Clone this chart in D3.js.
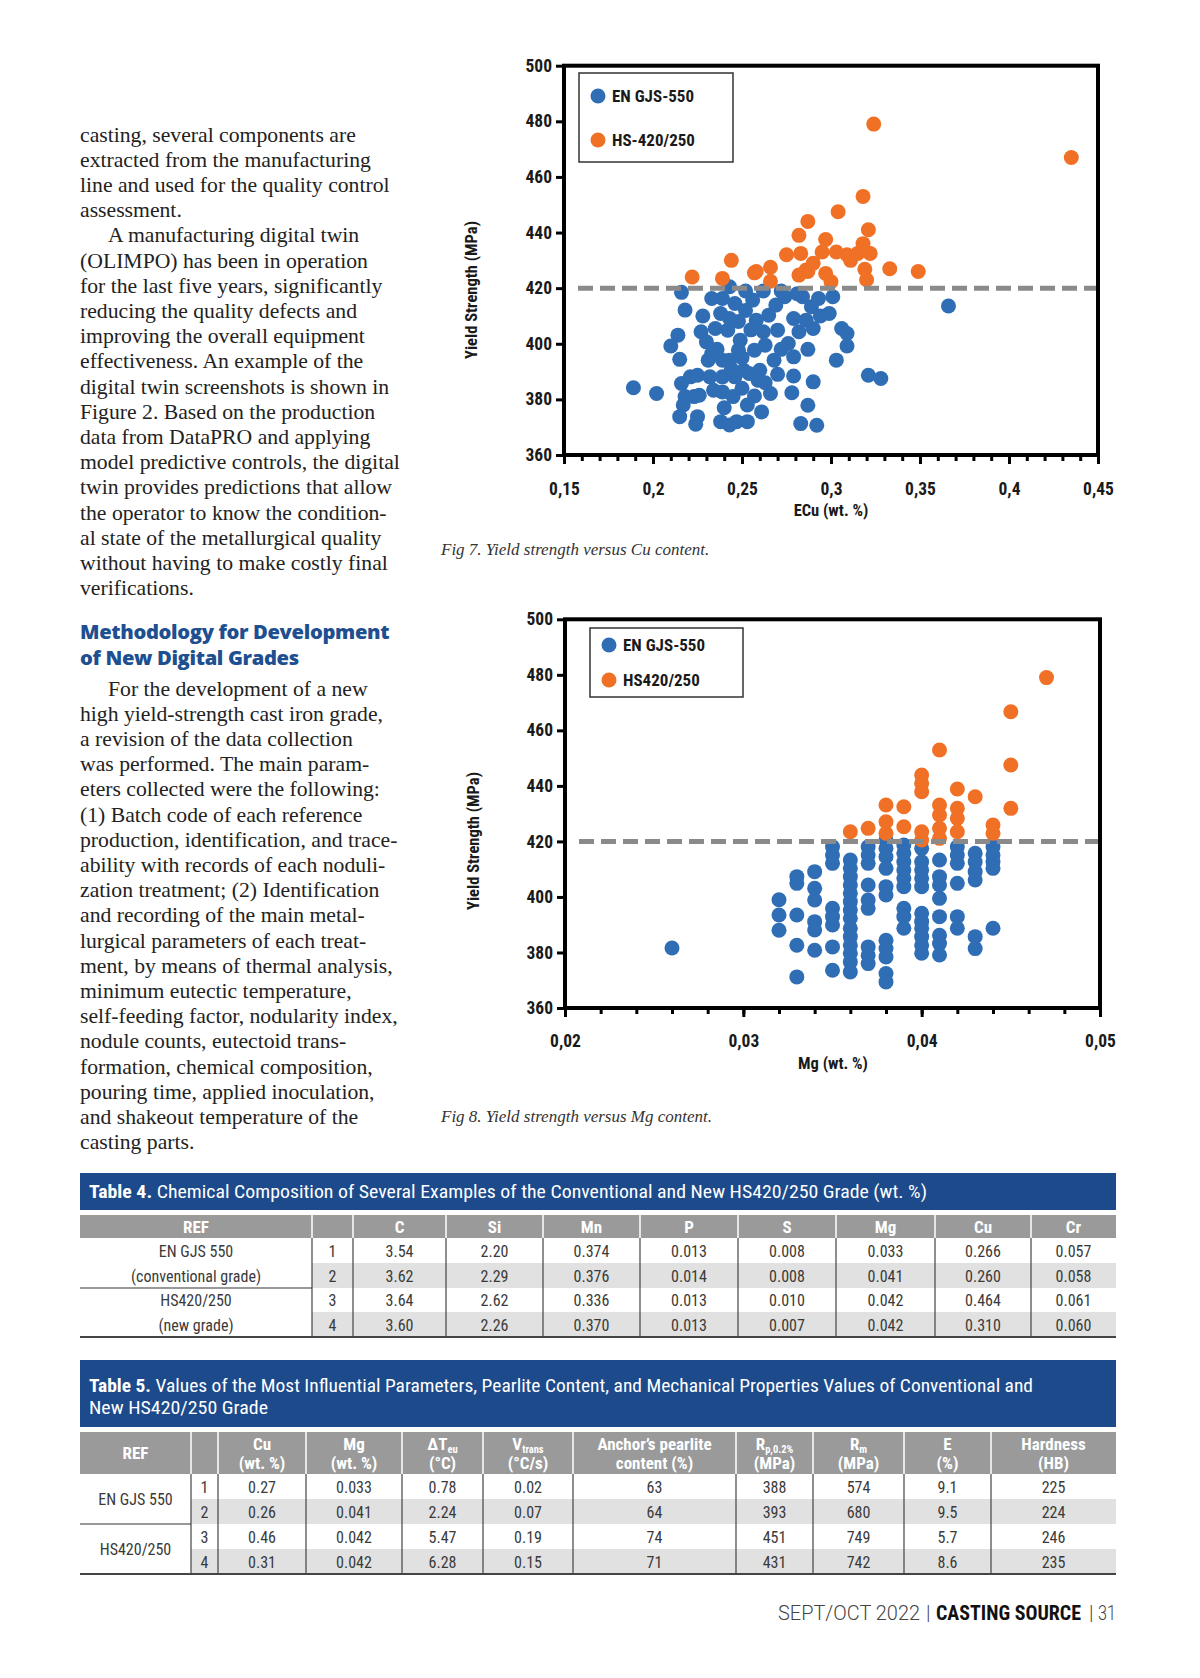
<!DOCTYPE html>
<html>
<head>
<meta charset="utf-8">
<script src="https://cdn.jsdelivr.net/npm/d3@7"></script>
<style>
  body { margin: 0; background: #fff; }
</style>
</head>
<body>
<svg id="page"></svg>
<script>
// ---------- data: Fig 7 (ECu vs yield strength) ----------
const cuBlue = [
  [0.189,384.2],[0.202,382.1],[0.216,418.5],[0.218,412.1],[0.214,403.1],[0.210,399.2],[0.215,394.4],
  [0.216,385.7],[0.221,388.1],[0.225,388.7],[0.218,381],[0.223,381],[0.226,381.5],[0.217,378],
  [0.215,373.8],[0.225,373.8],[0.224,371.1],[0.227,404.3],[0.230,400.7],[0.233,416.3],[0.239,416.3],
  [0.238,410.9],[0.235,405.5],[0.242,404.9],[0.231,394.1],[0.233,396.5],[0.239,394.1],[0.243,394.1],
  [0.232,388.1],[0.239,388.1],[0.246,388.1],[0.234,383.3],[0.239,382.7],[0.245,381],[0.238,372],
  [0.243,370.8],[0.247,372],[0.243,420.5],[0.246,414.5],[0.243,409.1],[0.249,401.3],[0.248,397.7],
  [0.250,384],[0.251,390.5],[0.366,413.6],[0.301,416.9],[0.299,410.9],[0.306,405.5],[0.309,403.7],
  [0.309,399.2],[0.303,394.1],[0.321,388.7],[0.328,387.5],[0.290,386.3],[0.279,388.4],[0.278,382.4],
  [0.287,377.9],[0.283,371.3],[0.292,370.7],[0.266,382.1],[0.261,375.5],[0.257,381.2],[0.279,395.3],
  [0.276,400.1],[0.282,404.3],[0.290,405.5],[0.286,408.5],[0.279,409.1],[0.289,413.3],[0.284,416.9],
  [0.293,416.3],[0.274,416.9],[0.269,413.9],[0.265,410.3],[0.270,404.9],[0.263,399.5],[0.268,394.1],
  [0.260,390.5],[0.257,397.7],[0.258,408.5],[0.256,415.7],[0.262,404.3],[0.259,386.9],[0.254,389.3],
  [0.252,412],[0.255,405],[0.250,395],[0.253,378],[0.240,377],[0.228,410],[0.236,398],[0.244,391],
  [0.270,389],[0.272,398],[0.287,398],[0.294,410],[0.262,419],[0.272,419],[0.281,418],[0.253,372],
  [0.263,386],[0.248,408],[0.252,419]
];
const cuOrange = [
  [0.222,424],[0.239,423.5],[0.244,430],[0.257,425.5],[0.258,426],[0.266,427.5],[0.266,422.5],
  [0.275,432],[0.282,424.7],[0.283,432.5],[0.282,439],[0.287,444],[0.287,426],[0.286,426.5],
  [0.295,433],[0.297,437.5],[0.297,425.3],[0.300,422.3],[0.303,433],[0.304,447.5],[0.309,432],
  [0.315,432.5],[0.318,436],[0.318,453],[0.319,426.8],[0.320,423],[0.321,441],[0.322,432.5],
  [0.324,479],[0.333,427],[0.349,426],[0.435,467],[0.290,429],[0.311,430]
];

// ---------- data: Fig 8 (Mg vs yield strength) ----------
const mgBlue = [
  [0.026,381.6],
  [0.032,399],[0.032,393.5],[0.032,388],
  [0.033,407.3],[0.033,404.9],[0.033,393.5],[0.033,382.6],[0.033,371.2],
  [0.034,409.1],[0.034,403.1],[0.034,398.9],[0.034,391.1],[0.034,388.1],[0.034,380.8],
  [0.035,418.1],[0.035,415.1],[0.035,412.1],[0.035,395.9],[0.035,392.9],[0.035,389.9],[0.035,382],[0.035,373.6],
  [0.036,413.3],[0.036,410.3],[0.036,407.3],[0.036,404.3],[0.036,401.3],[0.036,398.3],[0.036,395.3],
  [0.036,392.3],[0.036,388.7],[0.036,385.7],[0.036,382.6],[0.036,379.7],[0.036,376.6],[0.036,373.0],
  [0.037,418.1],[0.037,415.1],[0.037,412.1],[0.037,404.3],[0.037,398.9],[0.037,395.9],[0.037,382],[0.037,379],[0.037,376],
  [0.038,420.5],[0.038,417.5],[0.038,414.5],[0.038,410.3],[0.038,403.7],[0.038,400.7],[0.038,384.4],
  [0.038,381.4],[0.038,378.4],[0.038,372.4],[0.038,369.4],
  [0.039,418.7],[0.039,415.7],[0.039,412.7],[0.039,409.7],[0.039,406.7],[0.039,403.7],[0.039,395.9],[0.039,392.9],[0.039,388.7],
  [0.040,417.5],[0.040,412.7],[0.040,409.7],[0.040,406.7],[0.040,403.7],[0.040,394.1],[0.040,391.1],
  [0.040,388.7],[0.040,385.7],[0.040,382.6],[0.040,379.7],
  [0.041,413.3],[0.041,407.3],[0.041,404.3],[0.041,399.5],[0.041,392.9],[0.041,386.2],[0.041,383.2],[0.041,379.1],
  [0.042,418.1],[0.042,415.1],[0.042,412.1],[0.042,404.9],[0.042,392.9],[0.042,388.7],
  [0.043,415.7],[0.043,412.7],[0.043,409.1],[0.043,406.1],[0.043,385.7],[0.043,381.4],
  [0.044,418.1],[0.044,415.1],[0.044,412.7],[0.044,410.3],[0.044,388.7]
];
const mgOrange = [
  [0.047,479],[0.045,466.7],[0.045,447.5],[0.045,431.9],[0.041,452.9],[0.040,443.9],[0.040,440.9],
  [0.040,437.9],[0.042,438.9],[0.043,436.1],[0.038,433.1],[0.039,432.5],[0.041,433.1],[0.041,429.5],
  [0.041,424.7],[0.041,421.1],[0.042,431.9],[0.042,428.3],[0.042,423.5],[0.044,425.9],[0.044,422.9],
  [0.036,423.5],[0.037,424.7],[0.038,427.1],[0.038,422.9],[0.039,425.3],[0.040,423.5],[0.040,420.5]
];

const threshold = 420;
const yTicks = [360, 380, 400, 420, 440, 460, 480, 500];
const cuTicks = [0.15, 0.2, 0.25, 0.3, 0.35, 0.4, 0.45];
const cuTickLabels = ["0,15", "0,2", "0,25", "0,3", "0,35", "0,4", "0,45"];
const mgTicks = [0.02, 0.03, 0.04, 0.05];
const mgTickLabels = ["0,02", "0,03", "0,04", "0,05"];

// ---------- tables ----------
const t4Head = ["REF", "", "C", "Si", "Mn", "P", "S", "Mg", "Cu", "Cr"];
const t4Ref = [["EN GJS 550", "(conventional grade)"], ["HS420/250", "(new grade)"]];
const t4Rows = [
  ["1", "3.54", "2.20", "0.374", "0.013", "0.008", "0.033", "0.266", "0.057"],
  ["2", "3.62", "2.29", "0.376", "0.014", "0.008", "0.041", "0.260", "0.058"],
  ["3", "3.64", "2.62", "0.336", "0.013", "0.010", "0.042", "0.464", "0.061"],
  ["4", "3.60", "2.26", "0.370", "0.013", "0.007", "0.042", "0.310", "0.060"]
];
const t5Head = [
  [{m: "REF"}], [{m: ""}], [{m: "Cu"}, {m: "(wt. %)"}], [{m: "Mg"}, {m: "(wt. %)"}],
  [{m: "ΔT", s: "eu"}, {m: "(°C)"}], [{m: "V", s: "trans"}, {m: "(°C/s)"}],
  [{m: "Anchor’s pearlite"}, {m: "content (%)"}], [{m: "R", s: "p,0.2%"}, {m: "(MPa)"}],
  [{m: "R", s: "m"}, {m: "(MPa)"}], [{m: "E"}, {m: "(%)"}], [{m: "Hardness"}, {m: "(HB)"}]
];
const t5Ref = ["EN GJS 550", "HS420/250"];
const t5Rows = [
  ["1", "0.27", "0.033", "0.78", "0.02", "63", "388", "574", "9.1", "225"],
  ["2", "0.26", "0.041", "2.24", "0.07", "64", "393", "680", "9.5", "224"],
  ["3", "0.46", "0.042", "5.47", "0.19", "74", "451", "749", "5.7", "246"],
  ["4", "0.31", "0.042", "6.28", "0.15", "71", "431", "742", "8.6", "235"]
];

// ---------- body text ----------
const para1 = [
  "casting, several components are",
  "extracted from the manufacturing",
  "line and used for the quality control",
  "assessment.",
  "A manufacturing digital twin",
  "(OLIMPO) has been in operation",
  "for the last five years, significantly",
  "reducing the quality defects and",
  "improving the overall equipment",
  "effectiveness. An example of the",
  "digital twin screenshots is shown in",
  "Figure 2. Based on the production",
  "data from DataPRO and applying",
  "model predictive controls, the digital",
  "twin provides predictions that allow",
  "the operator to know the condition-",
  "al state of the metallurgical quality",
  "without having to make costly final",
  "verifications."
];
const heading = ["Methodology for Development", "of New Digital Grades"];
const para2 = [
  "For the development of a new",
  "high yield-strength cast iron grade,",
  "a revision of the data collection",
  "was performed. The main param-",
  "eters collected were the following:",
  "(1) Batch code of each reference",
  "production, identification, and trace-",
  "ability with records of each noduli-",
  "zation treatment; (2) Identification",
  "and recording of the main metal-",
  "lurgical parameters of each treat-",
  "ment, by means of thermal analysis,",
  "minimum eutectic temperature,",
  "self-feeding factor, nodularity index,",
  "nodule counts, eutectoid trans-",
  "formation, chemical composition,",
  "pouring time, applied inoculation,",
  "and shakeout temperature of the",
  "casting parts."
];

const SERIF = '"Liberation Serif","DejaVu Serif",serif';
const NARROW = '"Liberation Sans Narrow","Arial Narrow","Roboto Condensed","Liberation Sans",sans-serif';
const SANS = 'Roboto,"Open Sans",sans-serif';
const BLUE = "#2f6db5";
const ORANGE = "#f07126";
const NAVY = "#1d4a8b";

const svg = d3.select("#page").attr("width", 1200).attr("height", 1678);
svg.append("rect").attr("width", 1200).attr("height", 1678).attr("fill", "#fff");

// ---------- left column text ----------
function lines(arr, x, y0, lh, indentAt) {
  svg.append("g").selectAll("text").data(arr).join("text")
    .attr("x", (d, i) => indentAt.includes(i) ? x + 28 : x)
    .attr("y", (d, i) => y0 + i * lh)
    .attr("font-family", SERIF).attr("font-size", 21.7).attr("fill", "#222")
    .text(d => d);
}
lines(para1, 80, 141.5, 25.2, [4]);
lines(para2, 80, 695.5, 25.2, [0]);
svg.append("g").selectAll("text").data(heading).join("text")
  .attr("x", 80).attr("y", (d, i) => 639 + i * 25.5)
  .attr("font-family", '"Open Sans",sans-serif').attr("font-weight", 800)
  .attr("font-size", 20.2).attr("letter-spacing", -0.35).attr("fill", "#1e4f90")
  .text(d => d);

// ---------- scatter charts ----------
function scatter(o) {
  const x = d3.scaleLinear().domain(o.xDomain).range(o.xRange);
  const y = d3.scaleLinear().domain([360, 500]).range(o.yRange);
  const g = svg.append("g");

  g.append("g").attr("transform", `translate(${o.xRange[0]},0)`)
    .call(d3.axisLeft(y).tickValues(yTicks).tickSize(8).tickPadding(4));
  g.append("g").attr("transform", `translate(0,${o.yRange[0]})`)
    .call(d3.axisBottom(x).tickValues(x.ticks(o.minorCount)).tickSize(6).tickFormat(""));
  g.append("g").attr("transform", `translate(0,${o.yRange[0]})`)
    .call(d3.axisBottom(x).tickValues(o.ticks).tickSize(9).tickPadding(o.pad)
      .tickFormat((d, i) => o.labels[i]));
  g.selectAll(".domain").remove();
  g.selectAll(".tick line").attr("stroke", "#000").attr("stroke-width", 3);
  g.selectAll(".tick text").attr("font-family", NARROW).attr("font-weight", 700)
    .attr("font-size", 17.5).attr("fill", "#1a1a1a");

  g.append("g").selectAll("circle").data(o.blue).join("circle")
    .attr("cx", d => x(d[0])).attr("cy", d => y(d[1])).attr("r", 7.5).attr("fill", BLUE);
  g.append("g").selectAll("circle").data(o.orange).join("circle")
    .attr("cx", d => x(d[0])).attr("cy", d => y(d[1])).attr("r", 7.5).attr("fill", ORANGE);

  g.append("line")
    .attr("x1", o.xRange[0] + 14).attr("x2", o.xRange[1] - 2)
    .attr("y1", y(threshold)).attr("y2", y(threshold))
    .attr("stroke", "#8a8a8a").attr("stroke-width", 5).attr("stroke-dasharray", "15,7");

  g.append("rect")
    .attr("x", o.xRange[0]).attr("y", o.yRange[1])
    .attr("width", o.xRange[1] - o.xRange[0]).attr("height", o.yRange[0] - o.yRange[1])
    .attr("fill", "none").attr("stroke", "#000").attr("stroke-width", 4);

  // legend
  const L = o.legend;
  g.append("rect").attr("x", L.x).attr("y", L.y).attr("width", L.w).attr("height", L.h)
    .attr("fill", "#fff").attr("stroke", "#333").attr("stroke-width", 1.5);
  [[BLUE, o.names[0]], [ORANGE, o.names[1]]].forEach((e, i) => {
    const cy = L.y + L.first + i * L.gap;
    g.append("circle").attr("cx", L.x + 19).attr("cy", cy).attr("r", 7.5).attr("fill", e[0]);
    g.append("text").attr("x", L.x + 33).attr("y", cy + 6)
      .attr("font-family", NARROW).attr("font-weight", 700).attr("font-size", 17)
      .attr("fill", "#1a1a1a").text(e[1]);
  });

  // axis titles
  g.append("text")
    .attr("transform", `translate(${o.yTitle[0]},${o.yTitle[1]}) rotate(-90)`)
    .attr("text-anchor", "middle").attr("font-family", NARROW).attr("font-weight", 700)
    .attr("font-size", 16.5).attr("fill", "#1a1a1a").text("Yield Strength (MPa)");
  g.append("text").attr("x", o.xTitle[0]).attr("y", o.xTitle[1])
    .attr("text-anchor", "middle").attr("font-family", NARROW).attr("font-weight", 700)
    .attr("font-size", 16.5).attr("fill", "#1a1a1a").text(o.xName);

  svg.append("text").attr("x", 441).attr("y", o.caption[1])
    .attr("font-family", SERIF).attr("font-style", "italic").attr("font-size", 17)
    .attr("fill", "#333").text(o.caption[0]);
}

scatter({
  xDomain: [0.15, 0.45], xRange: [564, 1098], yRange: [455, 65.7],
  minorCount: 30, ticks: cuTicks, labels: cuTickLabels, pad: 19,
  blue: cuBlue, orange: cuOrange, names: ["EN GJS-550", "HS-420/250"],
  legend: {x: 579, y: 73, w: 154, h: 89, first: 23, gap: 44},
  yTitle: [477, 290], xTitle: [831, 516], xName: "ECu (wt. %)",
  caption: ["Fig 7. Yield strength versus Cu content.", 555]
});
scatter({
  xDomain: [0.02, 0.05], xRange: [565, 1100], yRange: [1008, 619.3],
  minorCount: 15, ticks: mgTicks, labels: mgTickLabels, pad: 18,
  blue: mgBlue, orange: mgOrange, names: ["EN GJS-550", "HS420/250"],
  legend: {x: 590, y: 628, w: 153, h: 69, first: 17, gap: 35},
  yTitle: [479, 841], xTitle: [833, 1069], xName: "Mg (wt. %)",
  caption: ["Fig 8. Yield strength versus Mg content.", 1122]
});

// ---------- tables ----------
function titleBar(y0, y1, textLines) {
  svg.append("rect").attr("x", 80).attr("y", y0).attr("width", 1036).attr("height", y1 - y0).attr("fill", NAVY);
  textLines.forEach(t => {
    const tx = svg.append("text").attr("x", 89).attr("y", t.y)
      .attr("font-family", NARROW).attr("font-size", 19).attr("fill", "#fff")
      .attr("textLength", t.len).attr("lengthAdjust", "spacingAndGlyphs");
    if (t.bold) tx.append("tspan").attr("font-weight", 700).text(t.bold);
    tx.append("tspan").attr("font-weight", 400).text(t.rest);
  });
}

function grid(cols, headY0, headY1, rowEdges) {
  const g = svg.append("g");
  const bottom = rowEdges[rowEdges.length - 1];
  g.append("rect").attr("x", 80).attr("y", headY0).attr("width", 1036).attr("height", headY1 - headY0).attr("fill", "#9a9a9a");
  [1, 3].forEach(r => g.append("rect").attr("x", cols[1]).attr("y", rowEdges[r])
    .attr("width", 1116 - cols[1]).attr("height", rowEdges[r + 1] - rowEdges[r]).attr("fill", "#e1e1e1"));
  cols.slice(1, -1).forEach(cx => {
    g.append("line").attr("x1", cx).attr("x2", cx).attr("y1", headY0).attr("y2", headY1)
      .attr("stroke", "#fff").attr("stroke-width", 1.5);
    g.append("line").attr("x1", cx).attr("x2", cx).attr("y1", headY1).attr("y2", bottom)
      .attr("stroke", "#444").attr("stroke-width", 1.2);
  });
  g.append("line").attr("x1", 80).attr("x2", cols[1]).attr("y1", rowEdges[2]).attr("y2", rowEdges[2])
    .attr("stroke", "#333").attr("stroke-width", 1.2);
  g.append("line").attr("x1", 80).attr("x2", 1116).attr("y1", bottom).attr("y2", bottom)
    .attr("stroke", "#444").attr("stroke-width", 2);
  return g;
}

function cellText(g, x, y, s, opts = {}) {
  return g.append("text").attr("x", x).attr("y", y).attr("text-anchor", "middle")
    .attr("font-family", NARROW).attr("font-size", opts.size || 16)
    .attr("font-weight", opts.bold ? 700 : 400).attr("fill", opts.fill || "#3a3a3a").text(s);
}

// Table 4
titleBar(1173, 1210, [{y: 1198, bold: "Table 4.", rest: " Chemical Composition of Several Examples of the Conventional and New HS420/250 Grade (wt. %)", len: 838}]);
const c4 = [80, 312, 353, 446, 543, 640, 738, 836, 935, 1031, 1116];
const r4 = [1238, 1263, 1288, 1312, 1337];
const g4 = grid(c4, 1215, 1238, r4);
t4Head.forEach((h, i) => cellText(g4, (c4[i] + c4[i + 1]) / 2, 1233, h, {bold: true, fill: "#fff", size: 17}));
t4Rows.forEach((row, r) => row.forEach((v, j) =>
  cellText(g4, (c4[j + 1] + c4[j + 2]) / 2, (r4[r] + r4[r + 1]) / 2 + 6, v)));
t4Ref.forEach((pair, k) => pair.forEach((s, j) =>
  cellText(g4, (c4[0] + c4[1]) / 2, (r4[k * 2 + j] + r4[k * 2 + j + 1]) / 2 + 6, s)));

// Table 5
titleBar(1360, 1427, [
  {y: 1392, bold: "Table 5.", rest: " Values of the Most Influential Parameters, Pearlite Content, and Mechanical Properties Values of Conventional and", len: 944},
  {y: 1414, bold: "", rest: "New HS420/250 Grade", len: 179}
]);
const c5 = [80, 191, 218, 306, 402, 483, 573, 736, 813, 904, 991, 1116];
const r5 = [1474, 1499, 1524, 1549, 1574];
const g5 = grid(c5, 1432, 1474, r5);
t5Head.forEach((h, i) => {
  const cx = (c5[i] + c5[i + 1]) / 2;
  h.forEach((part, j) => {
    const yy = h.length === 1 ? 1459 : 1450 + j * 19;
    const t = cellText(g5, cx, yy, null, {bold: true, fill: "#fff", size: 17});
    t.append("tspan").text(part.m);
    if (part.s) t.append("tspan").attr("font-size", 10.5).attr("dy", 3).text(part.s);
  });
});
t5Rows.forEach((row, r) => row.forEach((v, j) =>
  cellText(g5, (c5[j + 1] + c5[j + 2]) / 2, (r5[r] + r5[r + 1]) / 2 + 6, v)));
t5Ref.forEach((s, k) => cellText(g5, (c5[0] + c5[1]) / 2, r5[k * 2 + 1] + 6, s));

// ---------- footer ----------
const foot = svg.append("g").attr("font-size", 20);
foot.append("text").attr("x", 778).attr("y", 1620).attr("font-family", SANS).attr("font-weight", 300)
  .attr("fill", "#444").attr("textLength", 142).attr("lengthAdjust", "spacingAndGlyphs").text("SEPT/OCT 2022");
foot.append("text").attr("x", 926).attr("y", 1620).attr("font-family", SANS).attr("font-weight", 300)
  .attr("fill", "#444").text("|");
foot.append("text").attr("x", 936).attr("y", 1620).attr("font-family", NARROW).attr("font-weight", 700)
  .attr("fill", "#111").attr("textLength", 145).attr("lengthAdjust", "spacingAndGlyphs").text("CASTING SOURCE");
foot.append("text").attr("x", 1089).attr("y", 1620).attr("font-family", SANS).attr("font-weight", 300)
  .attr("fill", "#444").text("|");
foot.append("text").attr("x", 1098).attr("y", 1620).attr("font-family", SANS).attr("font-weight", 300)
  .attr("fill", "#444").attr("textLength", 18).attr("lengthAdjust", "spacingAndGlyphs").text("31");
</script>
</body>
</html>
